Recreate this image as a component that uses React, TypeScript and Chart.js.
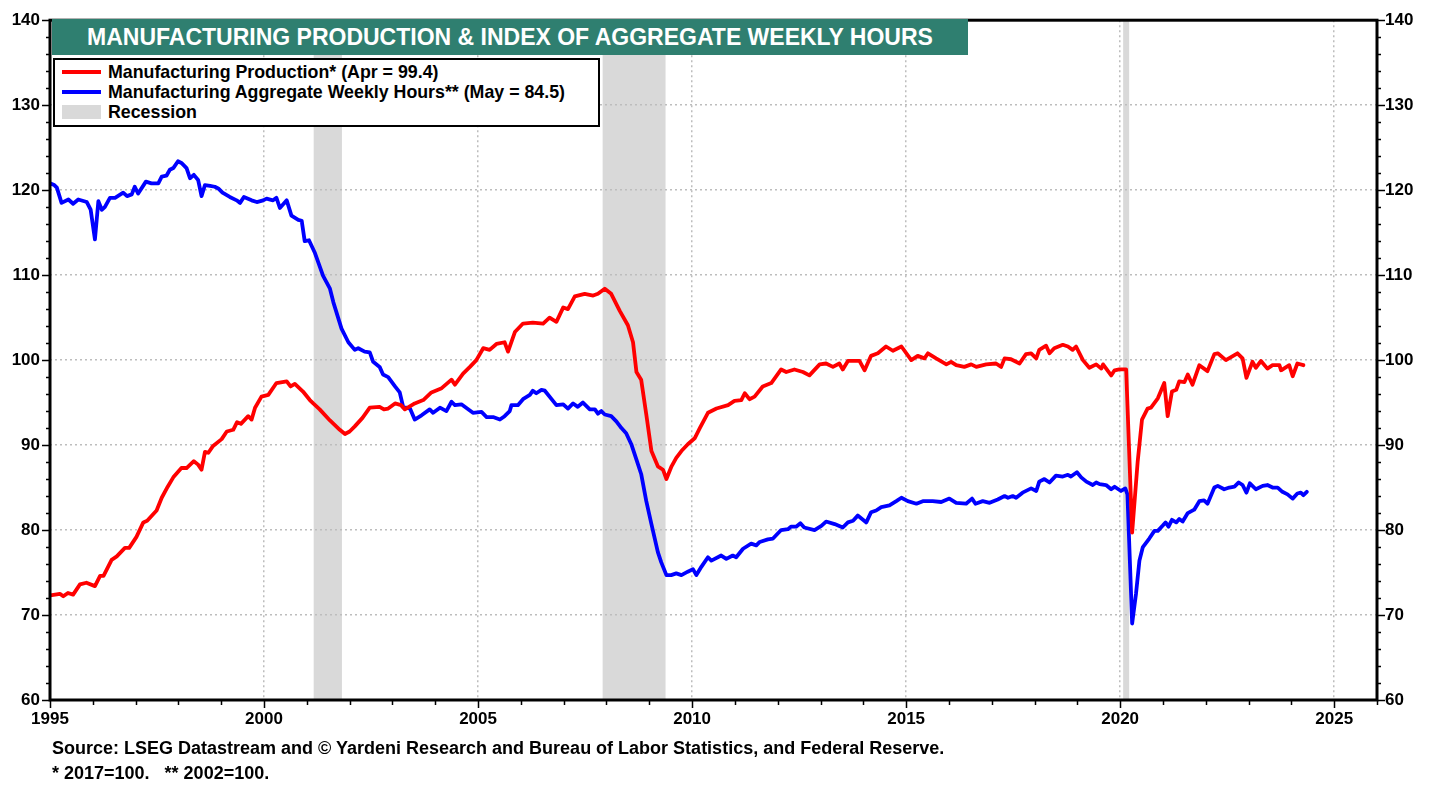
import React, { useEffect, useRef } from 'react';
import { Chart, registerables } from 'chart.js';

Chart.register(...registerables);

// ---------- DATA ----------
const prodDates = [
  1995.0, 1995.12, 1995.23, 1995.31, 1995.42, 1995.54, 1995.7, 1995.85, 1996.05, 1996.17, 1996.25, 1996.44,
  1996.56, 1996.75, 1996.85, 1997.02, 1997.18, 1997.27, 1997.49, 1997.61, 1997.75, 1997.88, 1998.07, 1998.19,
  1998.36, 1998.46, 1998.54, 1998.62, 1998.7, 1998.81, 1999.01, 1999.13, 1999.28, 1999.37, 1999.46, 1999.63,
  1999.71, 1999.79, 1999.94, 2000.1, 2000.29, 2000.53, 2000.62, 2000.72, 2000.91, 2001.07, 2001.15, 2001.3,
  2001.54, 2001.77, 2001.89, 2002.0, 2002.12, 2002.3, 2002.47, 2002.7, 2002.8, 2002.9, 2003.06, 2003.2,
  2003.29, 2003.52, 2003.72, 2003.91, 2004.15, 2004.38, 2004.46, 2004.65, 2004.81, 2004.96, 2005.12, 2005.27,
  2005.43, 2005.62, 2005.7, 2005.86, 2006.05, 2006.28, 2006.52, 2006.67, 2006.83, 2006.99, 2007.1, 2007.26,
  2007.49, 2007.69, 2007.8, 2007.96, 2008.11, 2008.31, 2008.5, 2008.62, 2008.7, 2008.81, 2008.93, 2009.05,
  2009.2, 2009.32, 2009.4, 2009.52, 2009.63, 2009.75, 2009.9, 2010.06, 2010.18, 2010.37, 2010.57, 2010.84,
  2010.99, 2011.15, 2011.23, 2011.34, 2011.46, 2011.65, 2011.85, 2012.08, 2012.2, 2012.39, 2012.59, 2012.74,
  2012.98, 2013.13, 2013.29, 2013.44, 2013.52, 2013.64, 2013.91, 2014.03, 2014.18, 2014.34, 2014.53, 2014.69,
  2014.89, 2015.12, 2015.27, 2015.43, 2015.51, 2015.7, 2015.94, 2016.05, 2016.17, 2016.36, 2016.52, 2016.64,
  2016.87, 2017.1, 2017.22, 2017.3, 2017.45, 2017.65, 2017.8, 2017.92, 2018.04, 2018.11, 2018.27, 2018.35,
  2018.46, 2018.66, 2018.78, 2018.89, 2018.97, 2019.13, 2019.28, 2019.44, 2019.56, 2019.6, 2019.79, 2019.87,
  2019.98, 2020.14, 2020.28, 2020.41, 2020.51, 2020.64, 2020.72, 2020.88, 2021.03, 2021.11, 2021.21, 2021.31,
  2021.38, 2021.5, 2021.58, 2021.69, 2021.85, 2022.04, 2022.2, 2022.28, 2022.47, 2022.74, 2022.86, 2022.95,
  2023.09, 2023.17, 2023.29, 2023.44, 2023.56, 2023.72, 2023.76, 2023.95, 2024.03, 2024.14, 2024.28,
];
const prodValues = [
  72.3, 72.4, 72.5, 72.2, 72.6, 72.4, 73.6, 73.8, 73.4, 74.6, 74.6, 76.5,
  76.9, 77.9, 77.9, 79.2, 80.9, 81.1, 82.3, 83.8, 85.1, 86.2, 87.3, 87.3,
  88.1, 87.7, 87.1, 89.2, 89.1, 89.9, 90.7, 91.6, 91.8, 92.7, 92.5, 93.4,
  93.0, 94.4, 95.7, 95.9, 97.3, 97.5, 96.9, 97.2, 96.3, 95.3, 94.9, 94.2,
  92.9, 91.8, 91.3, 91.6, 92.2, 93.2, 94.4, 94.5, 94.2, 94.3, 94.9, 94.7,
  94.2, 94.9, 95.3, 96.2, 96.7, 97.7, 97.1, 98.4, 99.2, 100.0, 101.4, 101.2,
  101.9, 102.1, 101.0, 103.3, 104.3, 104.4, 104.3, 105.0, 104.5, 106.2, 106.0, 107.5,
  107.8, 107.6, 107.8, 108.4, 107.8, 105.8, 104.1, 102.1, 98.6, 97.7, 93.6, 89.3,
  87.5, 87.1, 86.0, 87.5, 88.5, 89.3, 90.1, 90.8, 92.0, 93.8, 94.3, 94.7,
  95.2, 95.3, 96.1, 95.4, 95.7, 96.9, 97.3, 98.9, 98.6, 98.9, 98.6, 98.2,
  99.5, 99.6, 99.2, 99.6, 98.9, 99.9, 99.9, 98.8, 100.5, 100.8, 101.6, 101.1,
  101.6, 100.0, 100.5, 100.2, 100.8, 100.2, 99.5, 99.8, 99.4, 99.2, 99.5, 99.2,
  99.5, 99.6, 99.2, 100.2, 100.1, 99.6, 100.7, 100.8, 100.2, 101.2, 101.7, 100.8,
  101.4, 101.8, 101.6, 101.2, 101.6, 100.0, 99.1, 99.5, 99.0, 99.5, 98.2, 98.8,
  98.9, 98.9, 79.7, 88.1, 93.0, 94.3, 94.4, 95.5, 97.3, 93.4, 96.3, 96.5,
  97.5, 97.4, 98.3, 97.1, 99.4, 98.7, 100.7, 100.8, 100.0, 100.8, 100.2, 97.9,
  99.8, 99.1, 99.9, 99.0, 99.4, 99.4, 98.8, 99.4, 98.1, 99.6, 99.4,
];

const hoursDates = [
  1995.0, 1995.1, 1995.16, 1995.27, 1995.43, 1995.54, 1995.66, 1995.86, 1995.95, 1996.05, 1996.13, 1996.21,
  1996.28, 1996.4, 1996.52, 1996.71, 1996.8, 1996.91, 1996.98, 1997.06, 1997.24, 1997.37, 1997.53, 1997.61,
  1997.72, 1997.8, 1997.88, 1997.99, 1998.07, 1998.19, 1998.27, 1998.36, 1998.46, 1998.54, 1998.62, 1998.74,
  1998.85, 1998.93, 1999.03, 1999.2, 1999.36, 1999.44, 1999.53, 1999.71, 1999.83, 1999.98, 2000.06, 2000.21,
  2000.29, 2000.37, 2000.53, 2000.64, 2000.8, 2000.88, 2000.95, 2001.05, 2001.19, 2001.38, 2001.54, 2001.62,
  2001.81, 2001.97, 2002.12, 2002.2, 2002.35, 2002.47, 2002.55, 2002.7, 2002.78, 2002.9, 2003.06, 2003.17,
  2003.25, 2003.41, 2003.52, 2003.68, 2003.87, 2003.95, 2004.11, 2004.26, 2004.38, 2004.46, 2004.61, 2004.88,
  2005.08, 2005.2, 2005.35, 2005.51, 2005.62, 2005.74, 2005.78, 2005.93, 2006.05, 2006.21, 2006.28, 2006.36,
  2006.48, 2006.56, 2006.75, 2006.83, 2006.99, 2007.1, 2007.22, 2007.33, 2007.45, 2007.61, 2007.73, 2007.8,
  2007.88, 2007.96, 2008.11, 2008.23, 2008.35, 2008.46, 2008.58, 2008.7, 2008.81, 2008.93, 2009.05, 2009.2,
  2009.28, 2009.4, 2009.51, 2009.63, 2009.75, 2009.9, 2010.02, 2010.1, 2010.22, 2010.37, 2010.45, 2010.68,
  2010.8, 2010.95, 2011.03, 2011.19, 2011.38, 2011.5, 2011.58, 2011.77, 2011.89, 2012.08, 2012.24, 2012.31,
  2012.43, 2012.53, 2012.62, 2012.86, 2013.02, 2013.13, 2013.33, 2013.52, 2013.64, 2013.76, 2013.87, 2014.07,
  2014.18, 2014.3, 2014.42, 2014.61, 2014.77, 2014.89, 2015.04, 2015.24, 2015.39, 2015.62, 2015.82, 2016.01,
  2016.17, 2016.4, 2016.54, 2016.62, 2016.79, 2016.95, 2017.14, 2017.3, 2017.38, 2017.49, 2017.57, 2017.72,
  2017.92, 2018.04, 2018.11, 2018.23, 2018.35, 2018.5, 2018.66, 2018.78, 2018.85, 2018.99, 2019.09, 2019.21,
  2019.36, 2019.44, 2019.52, 2019.67, 2019.79, 2019.87, 2020.02, 2020.12, 2020.17, 2020.28, 2020.37, 2020.45,
  2020.53, 2020.68, 2020.8, 2020.88, 2020.99, 2021.06, 2021.13, 2021.21, 2021.31, 2021.38, 2021.46, 2021.58,
  2021.73, 2021.85, 2021.96, 2022.04, 2022.2, 2022.28, 2022.43, 2022.55, 2022.67, 2022.77, 2022.86, 2022.95,
  2023.03, 2023.17, 2023.33, 2023.44, 2023.56, 2023.68, 2023.79, 2023.91, 2024.03, 2024.14, 2024.22, 2024.28,
  2024.36,
];
const hoursValues = [
  120.8, 120.6, 120.3, 118.5, 118.9, 118.4, 118.9, 118.6, 117.7, 114.2, 118.7, 117.7,
  118.0, 119.1, 119.1, 119.7, 119.3, 119.5, 120.4, 119.6, 121.0, 120.8, 120.8, 121.6,
  121.7, 122.4, 122.6, 123.4, 123.2, 122.6, 121.4, 121.8, 121.2, 119.3, 120.6, 120.5,
  120.4, 120.2, 119.7, 119.2, 118.8, 118.5, 119.2, 118.8, 118.6, 118.8, 119.0, 118.8,
  119.1, 117.9, 118.8, 117.0, 116.5, 116.4, 114.0, 114.1, 112.6, 109.9, 108.4, 106.8,
  103.7, 102.1, 101.2, 101.4, 101.0, 100.9, 99.8, 99.2, 98.3, 98.0, 96.9, 96.2,
  94.5, 94.3, 93.0, 93.5, 94.2, 93.8, 94.4, 94.0, 95.1, 94.7, 94.8, 93.8,
  93.9, 93.3, 93.3, 93.0, 93.4, 94.0, 94.7, 94.7, 95.4, 95.9, 96.4, 96.1,
  96.5, 96.4, 95.2, 94.7, 94.8, 94.3, 94.9, 94.5, 95.0, 94.2, 94.2, 93.7,
  94.0, 93.6, 93.4, 92.8, 92.0, 91.4, 90.1, 88.3, 86.6, 83.4, 80.7, 77.4,
  76.2, 74.7, 74.7, 74.9, 74.7, 75.1, 75.4, 74.7, 75.7, 76.8, 76.4, 77.0,
  76.6, 77.0, 76.8, 77.8, 78.4, 78.2, 78.6, 78.9, 79.0, 80.0, 80.1, 80.4,
  80.4, 80.8, 80.3, 80.0, 80.5, 81.0, 80.7, 80.3, 80.9, 81.1, 81.7, 80.9,
  82.1, 82.3, 82.7, 82.9, 83.4, 83.8, 83.4, 83.1, 83.4, 83.4, 83.3, 83.7,
  83.2, 83.1, 83.7, 83.1, 83.4, 83.2, 83.6, 84.0, 83.8, 84.0, 83.8, 84.4,
  84.9, 84.6, 85.7, 86.0, 85.6, 86.4, 86.3, 86.5, 86.3, 86.8, 86.2, 85.7,
  85.3, 85.6, 85.4, 85.3, 84.8, 85.1, 84.6, 84.9, 84.2, 69.0, 72.5, 76.4,
  78.0, 79.0, 79.9, 79.9, 80.5, 80.9, 80.4, 81.2, 80.9, 81.3, 81.0, 82.0,
  82.4, 83.4, 83.5, 83.1, 85.0, 85.2, 84.8, 85.0, 85.1, 85.6, 85.3, 84.4,
  85.5, 84.8, 85.2, 85.3, 85.0, 85.0, 84.5, 84.2, 83.7, 84.3, 84.4, 84.1,
  84.5,
];

const recessionStarts = [2001.16, 2007.91, 2020.07];
const recessionEnds = [2001.82, 2009.38, 2020.21];

const xTickYears = [1995, 2000, 2005, 2010, 2015, 2020, 2025];
const yTickValues = [60, 70, 80, 90, 100, 110, 120, 130, 140];
const xMin = 1995;
const xMax = 2026;
const yMin = 60;
const yMax = 140;

const titleText = 'MANUFACTURING PRODUCTION & INDEX OF AGGREGATE WEEKLY HOURS';
const legendLabels = [
  'Manufacturing Production* (Apr = 99.4)',
  'Manufacturing Aggregate Weekly Hours** (May = 84.5)',
  'Recession',
];
const sourceText =
  'Source: LSEG Datastream and \u00A9 Yardeni Research and Bureau of Labor Statistics, and Federal Reserve.';
const noteText = '* 2017=100.   ** 2002=100.';

// ---------- STYLE ----------
const FONT = '"Liberation Sans", Arial, Helvetica, sans-serif';
const RED = '#FF0000';
const BLUE = '#0000FF';
const SHADE = '#D9D9D9';
const GRID = '#BDBDBD';
const TEAL = '#2F7F70';

const recessionPlugin = {
  id: 'recessionShade',
  beforeDraw(chart: any) {
    const { ctx, chartArea, scales } = chart;
    const x = scales.x;
    ctx.save();
    ctx.fillStyle = SHADE;
    for (let i = 0; i < recessionStarts.length; i++) {
      const x1 = x.getPixelForValue(recessionStarts[i]);
      const x2 = x.getPixelForValue(recessionEnds[i]);
      ctx.fillRect(x1, chartArea.top, x2 - x1, chartArea.bottom - chartArea.top);
    }
    ctx.restore();
  },
};

const frameTicksPlugin = {
  id: 'frameTicks',
  afterDraw(chart: any) {
    const { ctx, chartArea, scales } = chart;
    const { left, right, top, bottom } = chartArea;
    const x = scales.x;
    const y = scales.y;
    ctx.save();
    ctx.strokeStyle = '#000';
    ctx.lineWidth = 1.5;
    ctx.beginPath();
    for (let v = yMin; v <= yMax; v += 2) {
      const py = Math.round(y.getPixelForValue(v)) + 0.5;
      const len = v % 10 === 0 ? 8 : 4;
      ctx.moveTo(left - len, py);
      ctx.lineTo(left, py);
      ctx.moveTo(right, py);
      ctx.lineTo(right + len, py);
    }
    for (let yr = xMin; yr <= xMax; yr += 1) {
      const px = Math.round(x.getPixelForValue(yr)) + 0.5;
      const len = yr % 5 === 0 ? 8 : 5;
      ctx.moveTo(px, bottom);
      ctx.lineTo(px, bottom + len);
    }
    ctx.stroke();
    ctx.lineWidth = 3;
    ctx.strokeRect(left, top, right - left, bottom - top);
    ctx.restore();
  },
};

const tickFont = { family: FONT, size: 17, weight: 'bold' as const };

export default function App() {
  const canvasRef = useRef<HTMLCanvasElement | null>(null);

  useEffect(() => {
    document.body.style.margin = '0';
    const canvas = canvasRef.current;
    if (!canvas) return;
    const chart = new Chart(canvas, {
      type: 'line',
      data: {
        datasets: [
          {
            label: legendLabels[0],
            data: prodDates.map((d, i) => ({ x: d, y: prodValues[i] })),
            borderColor: RED,
            borderWidth: 3.8,
            yAxisID: 'y',
          },
          {
            label: legendLabels[1],
            data: hoursDates.map((d, i) => ({ x: d, y: hoursValues[i] })),
            borderColor: BLUE,
            borderWidth: 3.8,
            yAxisID: 'y',
          },
        ],
      },
      options: {
        responsive: false,
        animation: false,
        maintainAspectRatio: false,
        layout: { padding: { top: 16, left: 0, right: 0, bottom: 0 } },
        plugins: {
          legend: { display: false },
          tooltip: { enabled: false },
          title: { display: false },
        },
        elements: {
          point: { radius: 0 },
          line: { tension: 0, borderJoinStyle: 'round', borderCapStyle: 'round' },
        },
        scales: {
          x: {
            type: 'linear',
            min: xMin,
            max: xMax,
            afterBuildTicks: (s: any) => {
              s.ticks = xTickYears.map((v) => ({ value: v }));
            },
            afterFit: (s: any) => {
              s.height = 85;
            },
            ticks: {
              callback: (v: any) => String(v),
              font: tickFont,
              color: '#000',
              padding: 9,
              maxRotation: 0,
              autoSkip: false,
            },
            grid: {
              color: (c: any) => (c.tick && c.tick.value === xMin ? 'rgba(0,0,0,0)' : GRID),
              lineWidth: 1.5,
              drawTicks: false,
            },
            border: { display: false, dash: [2, 3] },
          },
          y: {
            position: 'left',
            min: yMin,
            max: yMax,
            afterBuildTicks: (s: any) => {
              s.ticks = yTickValues.map((v) => ({ value: v }));
            },
            afterFit: (s: any) => {
              s.width = 50;
            },
            ticks: { font: tickFont, color: '#000', padding: 10 },
            grid: {
              color: (c: any) =>
                c.tick && (c.tick.value === yMin || c.tick.value === yMax) ? 'rgba(0,0,0,0)' : GRID,
              lineWidth: 1.5,
              drawTicks: false,
            },
            border: { display: false, dash: [2, 3] },
          },
          y2: {
            position: 'right',
            min: yMin,
            max: yMax,
            afterBuildTicks: (s: any) => {
              s.ticks = yTickValues.map((v) => ({ value: v }));
            },
            afterFit: (s: any) => {
              s.width = 63;
            },
            ticks: { font: tickFont, color: '#000', padding: 8 },
            grid: { display: false, drawTicks: false },
            border: { display: false },
          },
        },
      },
      plugins: [recessionPlugin, frameTicksPlugin],
    } as any);
    return () => chart.destroy();
  }, []);

  const textBase: React.CSSProperties = {
    position: 'absolute',
    fontFamily: FONT,
    fontWeight: 'bold',
    color: '#000',
    whiteSpace: 'pre',
  };

  const rowTop = [12, 32, 52];

  return (
    <div style={{ position: 'absolute', left: 0, top: 0, width: 1440, height: 785, background: '#fff' }}>
      <canvas ref={canvasRef} width={1440} height={785} style={{ position: 'absolute', left: 0, top: 0 }} />
      <div
        style={{
          position: 'absolute',
          left: 52,
          top: 19,
          width: 916,
          height: 36,
          background: TEAL,
          color: '#fff',
          fontFamily: FONT,
          fontWeight: 'bold',
          fontSize: 23,
          lineHeight: '36px',
          paddingLeft: 35,
          boxSizing: 'border-box',
          whiteSpace: 'nowrap',
        }}
      >
        {titleText}
      </div>
      <div
        style={{
          position: 'absolute',
          left: 53,
          top: 58,
          width: 547,
          height: 69,
          border: '2px solid #000',
          background: '#fff',
          boxSizing: 'border-box',
        }}
      >
        <div style={{ position: 'absolute', left: 7, top: rowTop[0] - 2, width: 39, height: 4, background: RED }} />
        <div style={{ position: 'absolute', left: 7, top: rowTop[1] - 2, width: 39, height: 4, background: BLUE }} />
        <div style={{ position: 'absolute', left: 7, top: rowTop[2] - 7, width: 39, height: 14, background: SHADE }} />
        {legendLabels.map((t, i) => (
          <div
            key={t}
            style={{ ...textBase, left: 53, top: rowTop[i] - 10, fontSize: 17.8, lineHeight: '20px' }}
          >
            {t}
          </div>
        ))}
      </div>
      <div style={{ ...textBase, left: 52, top: 737, fontSize: 18, lineHeight: '22px' }}>{sourceText}</div>
      <div style={{ ...textBase, left: 52, top: 762, fontSize: 18, lineHeight: '22px' }}>{noteText}</div>
    </div>
  );
}
